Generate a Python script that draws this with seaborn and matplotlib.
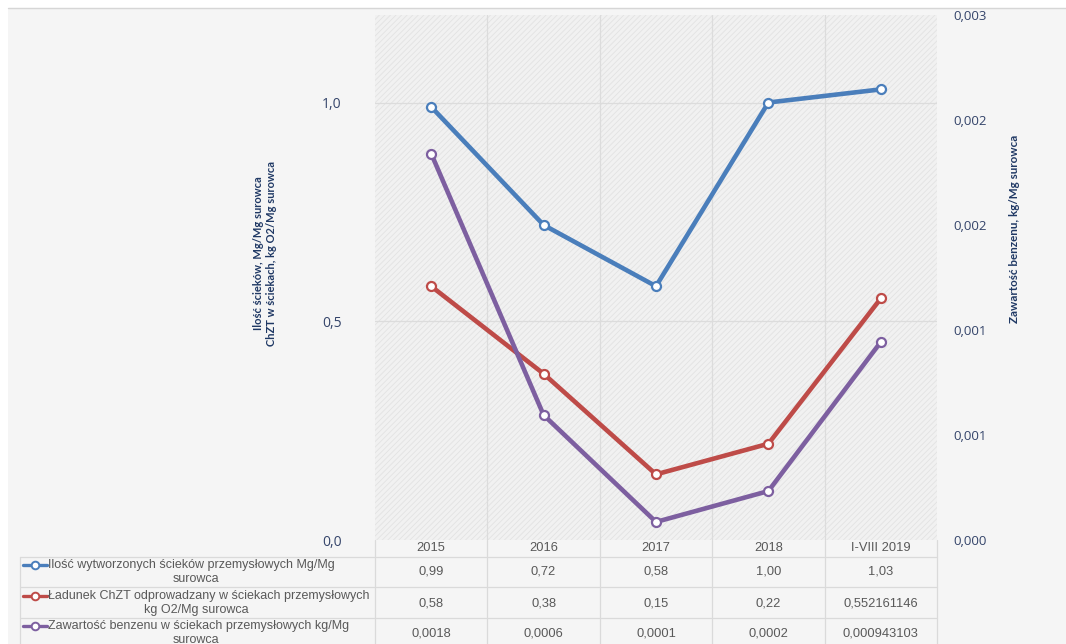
import numpy as np
import pandas as pd
import seaborn as sns
import matplotlib
matplotlib.use("Agg")
import matplotlib.pyplot as plt
from matplotlib.patches import Rectangle
from matplotlib.lines import Line2D

# ---- data -------------------------------------------------------------
years = ["2015", "2016", "2017", "2018", "I-VIII 2019"]
scieki = [0.99, 0.72, 0.58, 1.00, 1.03]                 # Mg/Mg surowca
chzt = [0.58, 0.38, 0.15, 0.22, 0.552161146]            # kg O2/Mg surowca
benzen = [0.00184, 0.000595, 0.000086, 0.000233, 0.000943103]  # kg/Mg surowca

series_names = [
    ["Ilość wytworzonych ścieków przemysłowych Mg/Mg", "surowca"],
    ["Ładunek ChZT odprowadzany w ściekach przemysłowych", "kg O2/Mg surowca"],
    ["Zawartość benzenu w ściekach przemysłowych kg/Mg", "surowca"],
]
row_decimals = [2, 2, 4]
left_ticks = [0.0, 0.5, 1.0]
left_ticklabels = ["0,0", "0,5", "1,0"]
right_ticks = [0.0, 0.0005, 0.001, 0.0015, 0.002, 0.0025]
right_ticklabels = ["0,000", "0,001", "0,001", "0,002", "0,002", "0,003"]

colors = ["#4a7ebb", "#be4b48", "#7d5fa0"]

# ---- figure -----------------------------------------------------------
W, H = 1066, 644
sns.set_style("white")
plt.rcParams["font.family"] = ["Liberation Sans", "DejaVu Sans"]
plt.rcParams["hatch.linewidth"] = 0.6
fig = plt.figure(figsize=(W / 100, H / 100), dpi=100, facecolor="white")


def fx(px):
    return px / W


def fy(py):
    return (H - py) / H


# background of the chart object
fig.add_artist(Rectangle((fx(8), fy(H)), fx(W) - fx(8), fy(9) - fy(H),
                         transform=fig.transFigure, facecolor="#f5f5f5",
                         edgecolor="none", zorder=-10))
fig.add_artist(Line2D([fx(8), 1], [fy(8), fy(8)], transform=fig.transFigure,
                      color="#d6d6d6", lw=1, zorder=-9))

L, R, T, B = 375, 937, 15, 540
ax = fig.add_axes([fx(L), fy(B), fx(R) - fx(L), fy(T) - fy(B)])
ax.set_facecolor("#f1f1f1")
ax.add_patch(Rectangle((0, 0), 1, 1, transform=ax.transAxes, fill=False,
                       hatch="//////", edgecolor="#e2e2e2", lw=0, zorder=0))
x = np.arange(len(years))
ax.set_xlim(-0.5, len(years) - 0.5)
ax.set_ylim(0, 1.2)

for xb in np.arange(0.5, len(years) - 0.5, 1.0):
    ax.axvline(xb, color="#dcdcdc", lw=0.9, zorder=1)
for yv in [0.5, 1.0]:
    ax.axhline(yv, color="#dcdcdc", lw=0.9, zorder=1)

line_kw = dict(marker="o", markersize=6.5, markerfacecolor="white",
               markeredgewidth=1.6, linewidth=3.3, zorder=3)
df = pd.DataFrame({"x": x, "scieki": scieki, "chzt": chzt, "benzen": benzen})
sns.lineplot(data=df, x="x", y="scieki", ax=ax, color=colors[0],
             markeredgecolor=colors[0], **line_kw)
sns.lineplot(data=df, x="x", y="chzt", ax=ax, color=colors[1],
             markeredgecolor=colors[1], **line_kw)

ax2 = ax.twinx()
ax2.set_ylim(0, 0.0025)
sns.lineplot(data=df, x="x", y="benzen", ax=ax2, color=colors[2],
             markeredgecolor=colors[2], **line_kw)

tick_color = "#34446a"
ax.set_xticks([])
ax.set_xlabel("")
ax.set_ylabel("")
ax2.set_ylabel("")
ax.set_yticks(left_ticks)
ax.set_yticklabels(left_ticklabels, fontsize=10, color=tick_color,
                   family=["Open Sans", "DejaVu Sans"])
ax.tick_params(axis="y", length=0, pad=24)
ax2.set_yticks(right_ticks)
ax2.set_yticklabels(right_ticklabels, fontsize=9.5, color=tick_color,
                    family=["Open Sans", "DejaVu Sans"])
ax2.tick_params(axis="y", length=0, pad=12)
for a in (ax, ax2):
    for s in a.spines.values():
        s.set_visible(False)

label_color = "#1f3864"
fig.text(fx(265), fy(253), "Ilość ścieków, Mg/Mg surowca\nChZT w ściekach, kg O2/Mg surowca",
         rotation=90, ha="center", va="center", multialignment="center",
         fontsize=8, fontweight="bold", color=label_color,
         family=["Lato", "DejaVu Sans"], linespacing=1.25)
fig.text(fx(1015), fy(229), "Zawartość benzenu, kg/Mg surowca",
         rotation=90, ha="center", va="center",
         fontsize=8.4, fontweight="bold", color=label_color,
         family=["Lato", "DejaVu Sans"])

# ---- data table under the plot ---------------------------------------
grid_c = "#dadada"
col_edges = [L + i * (R - L) / len(years) for i in range(len(years) + 1)]
row_lines = [557, 587, 618]
tr = fig.transFigure


def hline(py, x0, x1):
    fig.add_artist(Line2D([fx(x0), fx(x1)], [fy(py), fy(py)], transform=tr,
                          color=grid_c, lw=0.9))


def vline(px, y0, y1):
    fig.add_artist(Line2D([fx(px), fx(px)], [fy(y0), fy(y1)], transform=tr,
                          color=grid_c, lw=0.9))


for py in row_lines:
    hline(py, 20, R)
vline(20, 557, H)
for px in col_edges:
    vline(px, B, H)

txt_c = "#595959"
for i, yr in enumerate(years):
    cx = (col_edges[i] + col_edges[i + 1]) / 2
    fig.text(fx(cx), fy(548), yr, ha="center", va="center", fontsize=9.3, color=txt_c)

row_centers = [572, 603, 633]
for r, vals in enumerate([scieki, chzt, benzen]):
    cy = row_centers[r]
    for i, v in enumerate(vals):
        if i == len(vals) - 1 and r > 0:
            s = repr(v)
        else:
            s = f"{v:.{row_decimals[r]}f}"
        cx = (col_edges[i] + col_edges[i + 1]) / 2
        fig.text(fx(cx), fy(cy), s.replace(".", ","), ha="center", va="center",
                 fontsize=9.3, color=txt_c)
    # legend key
    ky = cy - 7
    fig.add_artist(Line2D([fx(23), fx(47)], [fy(ky), fy(ky)], transform=tr,
                          color=colors[r], lw=2.4))
    fig.add_artist(Line2D([fx(35)], [fy(ky)], transform=tr, marker="o",
                          markersize=5.5, markerfacecolor="white",
                          markeredgecolor=colors[r], markeredgewidth=1.4))
    fig.text(fx(48), fy(ky), series_names[r][0], ha="left", va="center",
             fontsize=9, color=txt_c)
    fig.text(fx(196), fy(cy + 7), series_names[r][1], ha="center", va="center",
             fontsize=9, color=txt_c)

fig.savefig("out.png", dpi=100, facecolor=fig.get_facecolor())
